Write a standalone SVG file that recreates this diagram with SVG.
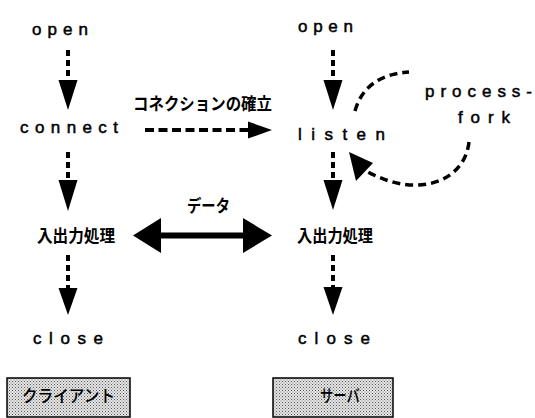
<svg xmlns="http://www.w3.org/2000/svg" width="535" height="418" viewBox="0 0 535 418">
<style>
.lat{font-family:"Liberation Sans",Arial,sans-serif;font-size:17px;fill:#000;stroke:#000;stroke-width:0.5}
.jp{font-family:"Noto Sans CJK JP",sans-serif;font-size:17px;font-weight:bold;fill:#000}
.jpn{font-family:"Noto Sans CJK JP",sans-serif;font-size:17px;font-weight:500;fill:#000}
.vd{stroke:#000;stroke-width:4;stroke-dasharray:6 4;fill:none}
.hd{stroke:#000;stroke-width:4;stroke-dasharray:9 4.5;fill:none}
.arc{stroke:#000;stroke-width:3.5;stroke-dasharray:8 5;fill:none}
.head{fill:#000}
.box{fill:url(#dots);stroke:#000;stroke-width:1.5}
</style>
<defs>
<pattern id="dots" width="3" height="3" patternUnits="userSpaceOnUse">
<rect width="3" height="3" fill="#e6e6e6"/>
<rect x="0" y="0" width="1" height="1" fill="#555"/>
<rect x="1.5" y="1.5" width="1" height="1" fill="#777"/>
</pattern>
</defs>
<rect width="535" height="418" fill="#fff"/>

<g id="connectors">
<line class="vd" x1="68" y1="50" x2="68" y2="81"/>
<polygon class="head" points="58.5,80 77.5,80 68,110"/>
<line class="vd" x1="68" y1="152" x2="68" y2="181"/>
<polygon class="head" points="58.5,180 77.5,180 68,211"/>
<line class="vd" x1="68" y1="255" x2="68" y2="289"/>
<polygon class="head" points="58.5,288 77.5,288 68,315"/>

<line class="vd" x1="333" y1="50" x2="333" y2="81"/>
<polygon class="head" points="323.5,80 342.5,80 333,110"/>
<line class="vd" x1="333" y1="152" x2="333" y2="181"/>
<polygon class="head" points="323.5,180 342.5,180 333,210"/>
<line class="vd" x1="333" y1="255" x2="333" y2="288"/>
<polygon class="head" points="323.5,287 342.5,287 333,315"/>

<line class="hd" x1="145" y1="130" x2="249" y2="130"/>
<polygon class="head" points="248,121.5 248,138.5 272,130"/>

<line x1="158" y1="235.5" x2="246" y2="235.5" stroke="#000" stroke-width="6"/>
<polygon class="head" points="133,235.5 161,218 161,253"/>
<polygon class="head" points="272,235.5 243,218 243,253"/>

<path class="arc" d="M355,111 Q365,75 409,72"/>
<path class="arc" d="M469,142 C465,180 420,200 368,172"/>
<polygon class="head" points="349,152 356,181 373,163"/>
</g>

<g id="client-open"><text class="lat" x="32" y="35" textLength="56" lengthAdjust="spacing">open</text></g>
<g id="client-connect"><text class="lat" x="20" y="133" textLength="98" lengthAdjust="spacing">connect</text></g>
<g id="client-io"><text class="jp" x="37" y="242" textLength="78" lengthAdjust="spacingAndGlyphs">入出力処理</text></g>
<g id="client-close"><text class="lat" x="33" y="344" textLength="70" lengthAdjust="spacing">close</text></g>
<g id="client-label">
<rect class="box" x="7" y="378" width="123" height="39"/>
<text class="jpn" x="22" y="402" textLength="93" lengthAdjust="spacingAndGlyphs">クライアント</text>
</g>

<g id="server-open"><text class="lat" x="298" y="32" textLength="55" lengthAdjust="spacing">open</text></g>
<g id="server-listen"><text class="lat" x="298" y="140" textLength="87" lengthAdjust="spacing">listen</text></g>
<g id="server-io"><text class="jp" x="297" y="242" textLength="76" lengthAdjust="spacingAndGlyphs">入出力処理</text></g>
<g id="server-close"><text class="lat" x="298" y="344" textLength="72" lengthAdjust="spacing">close</text></g>
<g id="server-label">
<rect class="box" x="273" y="378" width="120" height="39"/>
<text class="jpn" x="320" y="402" textLength="40" lengthAdjust="spacingAndGlyphs">サーバ</text>
</g>

<g id="process-fork">
<text class="lat" x="425" y="97" textLength="107" lengthAdjust="spacing">process-</text>
<text class="lat" x="458" y="123" textLength="52" lengthAdjust="spacing">fork</text>
</g>

<g id="labels">
<text class="jp" x="133" y="110" textLength="139" lengthAdjust="spacingAndGlyphs">コネクションの確立</text>
<text class="jp" x="187" y="212" textLength="43" lengthAdjust="spacingAndGlyphs">データ</text>
</g>
</svg>
